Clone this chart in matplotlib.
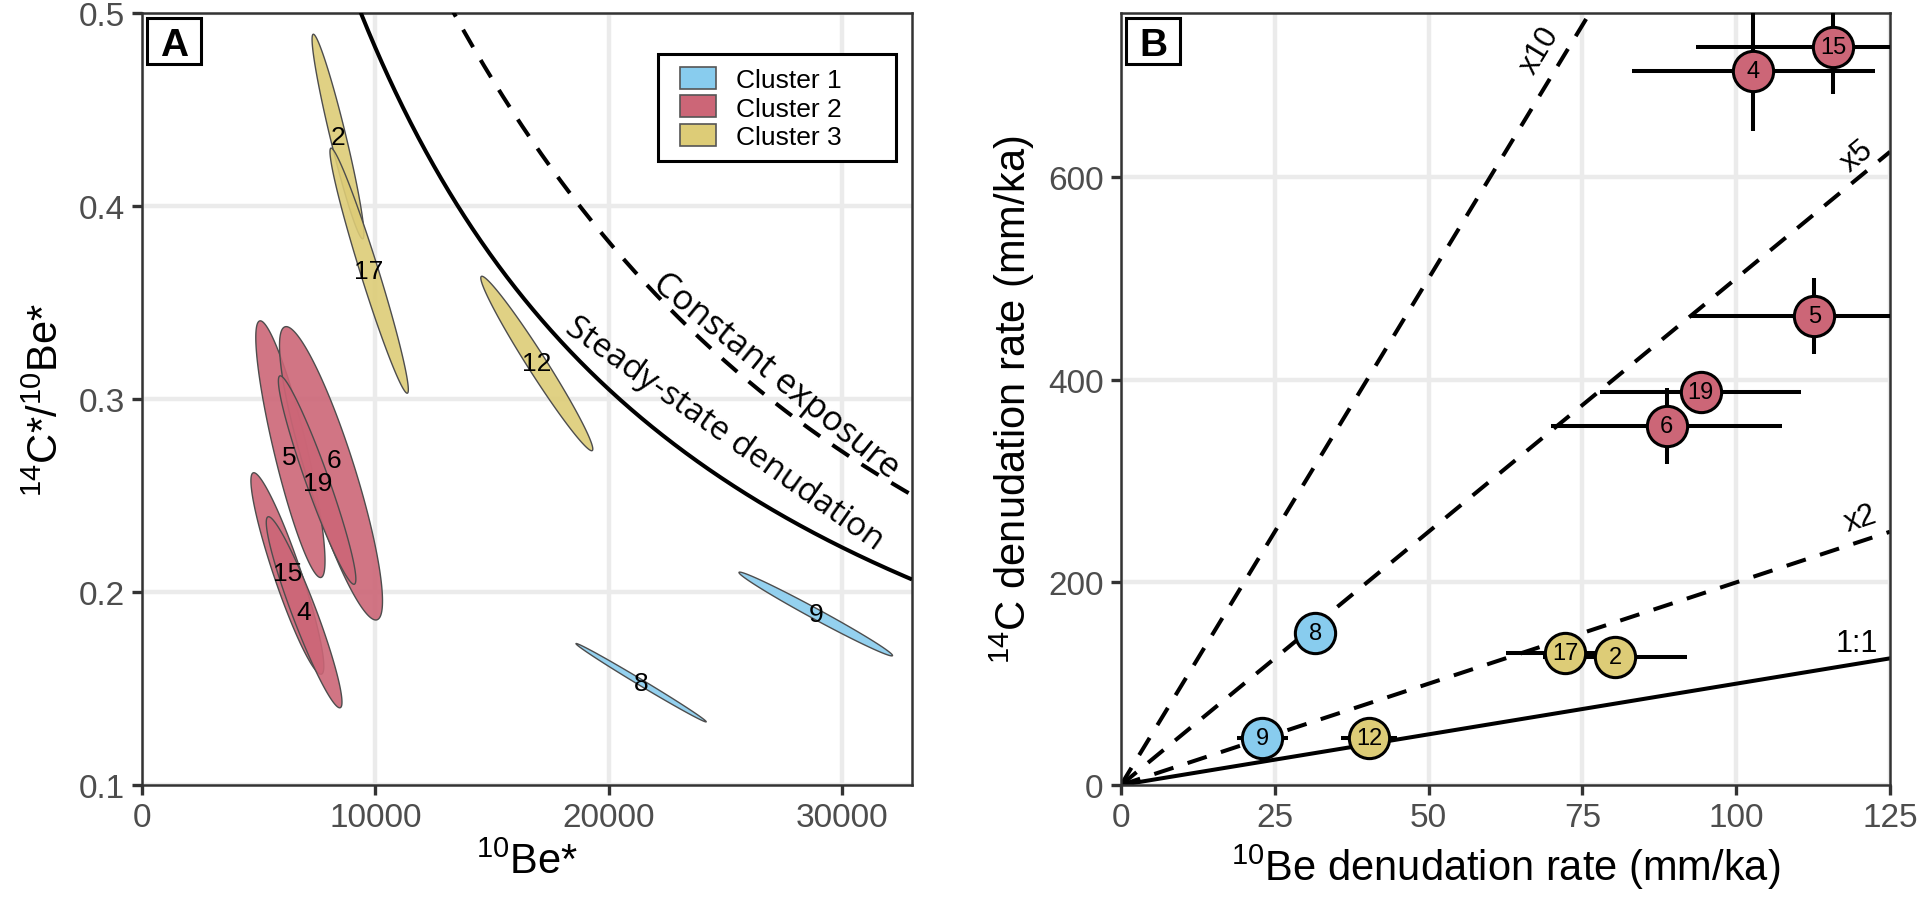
import numpy as np
import matplotlib
matplotlib.use('Agg')
import matplotlib.pyplot as plt
from matplotlib.patches import Polygon, Patch, Rectangle

plt.rcParams['font.family'] = ['Liberation Sans', 'DejaVu Sans']
plt.rcParams['mathtext.fontset'] = 'custom'
plt.rcParams['mathtext.rm'] = 'Liberation Sans'
plt.rcParams['mathtext.it'] = 'Liberation Sans:italic'
plt.rcParams['mathtext.bf'] = 'Liberation Sans:bold'

# ---------------- data ----------------
cluster_colors = ['#88CCEE', '#CC6677', '#DDCC77']
cluster_names = ['Cluster 1', 'Cluster 2', 'Cluster 3']

# Panel A: error ellipses (10Be*, 14C*/10Be*)
ell_sample = ['2', '17', '12', '5', '6', '19', '15', '4', '8', '9']
ell_cluster = [3, 3, 3, 2, 2, 2, 2, 2, 1, 1]
ell_be = [8400, 9735, 16920, 6360, 8100, 7505, 6230, 6948, 21390, 28875]
ell_ratio = [0.436, 0.3665, 0.3184, 0.274, 0.2615, 0.258, 0.2096, 0.1895, 0.153, 0.1886]
ell_sbe = [1111, 1679, 2400, 1483, 2207, 1660, 1562, 1622, 2790, 3290]
ell_sratio = [0.053, 0.0635, 0.0452, 0.0665, 0.076, 0.054, 0.0522, 0.0495, 0.0203, 0.0217]
ell_rho = [-0.95, -0.97, -0.98, -0.87, -0.87, -0.95, -0.92, -0.94, -0.996, -0.99]
# sample-number label anchors
lab_be = [8400, 9735, 16920, 6300, 8230, 7520, 6230, 6948, 21390, 28875]
lab_ratio = [0.436, 0.3665, 0.3184, 0.2697, 0.2686, 0.2566, 0.2096, 0.1895, 0.153, 0.1886]

# model curve parameters
ss_ratio0, ss_scale = 1.148, 7238.0     # steady-state denudation
ce_ratio0, ce_scale = 0.992, 8500.0     # constant exposure

# Panel B: denudation rates
b_sample = ['15', '4', '5', '19', '6', '8', '9', '12', '17', '2']
b_cluster = [2, 2, 2, 2, 2, 1, 1, 3, 3, 3]
b_be = [115.8, 102.8, 112.7, 94.2, 88.7, 31.6, 23.0, 40.3, 72.2, 80.3]
b_be_err = [22.3, 19.8, 20.0, 16.3, 18.8, 2.0, 4.1, 4.5, 9.7, 11.7]
b_c = [728.9, 705.1, 462.8, 388.4, 354.7, 149.8, 46.2, 46.8, 130.4, 126.4]
b_c_err = [47.0, 60.0, 37.3, 12.0, 37.6, 12.0, 8.0, 8.0, 10.0, 10.0]

ref_factors = [1, 2, 5, 10]
ref_labels = ['1:1', 'x2', 'x5', 'x10']
ref_label_be = [119.6, 120.2, 119.7, 68.0]
ref_label_c = [139.8, 263.5, 621.5, 725.6]

# ---------------- figure ----------------
W, H = 1920, 903
fig = plt.figure(figsize=(W / 100, H / 100), dpi=100)
top_px, bot_px = 14, 786
axA = fig.add_axes([142 / W, 1 - bot_px / H, (912 - 142) / W, (bot_px - top_px) / H])
axB = fig.add_axes([1121 / W, 1 - bot_px / H, (1890 - 1121) / W, (bot_px - top_px) / H])

TICK_FS = 24
TITLE_FS = 30


def style(ax):
    ax.set_facecolor('white')
    for s in ax.spines.values():
        s.set_color('#333333')
        s.set_linewidth(1.8)
    ax.tick_params(axis='both', colors='#333333', length=7.5, width=2.4,
                   labelsize=TICK_FS, labelcolor='#4D4D4D', pad=5)
    ax.grid(True, color='#EBEBEB', lw=3.2, zorder=0)
    ax.set_axisbelow(True)


def px_box(ax, left_px, top_px_, w_px, h_px):
    bb = ax.get_position()
    ax_w = bb.width * W
    ax_h = bb.height * H
    return left_px / ax_w, 1 - top_px_ / ax_h, w_px / ax_w, h_px / ax_h


def panel_letter(ax, letter):
    x0, ytop, w, h = px_box(ax, 5.0, 4.5, 54, 46)
    ax.add_patch(Rectangle((x0, ytop - h), w, h, transform=ax.transAxes,
                           facecolor='white', edgecolor='black', lw=2.2,
                           zorder=10, clip_on=False))
    bb = ax.get_position()
    ax.text(x0 + w / 2, ytop - h / 2 - 14.5 / (bb.height * H), letter,
            transform=ax.transAxes, ha='center', va='baseline', fontsize=28,
            fontweight='bold', zorder=11)


# ---------------- Panel A ----------------
style(axA)
axA.set_xlim(0, 33000)
axA.set_ylim(0.1, 0.5)
axA.set_xticks([0, 10000, 20000, 30000])
axA.set_yticks([0.1, 0.2, 0.3, 0.4, 0.5])
axA.set_xticklabels(['0', '10000', '20000', '30000'])
axA.set_yticklabels(['0.1', '0.2', '0.3', '0.4', '0.5'])

t = np.linspace(0, 2 * np.pi, 300)
circle = np.vstack([np.cos(t), np.sin(t)])
for s, c, bx, ry, sbx, sry, rho in zip(ell_sample, ell_cluster, ell_be, ell_ratio,
                                      ell_sbe, ell_sratio, ell_rho):
    cov = np.array([[sbx ** 2, rho * sbx * sry], [rho * sbx * sry, sry ** 2]])
    L = np.linalg.cholesky(cov)
    pts = (L @ circle).T + np.array([bx, ry])
    axA.add_patch(Polygon(pts, closed=True, facecolor=cluster_colors[c - 1],
                          alpha=0.9, edgecolor='none', zorder=3))
    axA.add_patch(Polygon(pts, closed=True, facecolor='none',
                          edgecolor='#4D4D4D', lw=1.0, zorder=3))
for s, bx, ry in zip(ell_sample, lab_be, lab_ratio):
    axA.text(bx, ry, s, ha='center', va='center', fontsize=19, color='black', zorder=5)

N = np.linspace(50, 33000, 800)
ss = ss_ratio0 / (1 + N / ss_scale)
xce = N / ce_scale
ce = ce_ratio0 * (1 - np.exp(-xce)) / xce
axA.plot(N, ss, color='black', lw=2.9, zorder=4, solid_capstyle='butt')
axA.plot(N, ce, color='black', lw=2.9, ls=(0, (5, 3.7)), zorder=4)

axA.set_xlabel(r'$^{10}$Be*', fontsize=TITLE_FS, labelpad=6)
axA.set_ylabel(r'$^{14}$C*/$^{10}$Be*', fontsize=TITLE_FS, labelpad=8)


def curve_label(ax, n0, func, text, offset_px, fs):
    p1 = ax.transData.transform((n0 - 200, func(n0 - 200)))
    p2 = ax.transData.transform((n0 + 200, func(n0 + 200)))
    ang = np.degrees(np.arctan2(p2[1] - p1[1], p2[0] - p1[0]))
    th = np.radians(ang)
    nx, ny = -np.sin(th), np.cos(th)  # normal pointing up-right
    off = offset_px * 72 / 100
    ax.annotate(text, xy=(n0, func(n0)), xytext=(nx * off, ny * off),
                textcoords='offset points', rotation=ang, rotation_mode='anchor',
                ha='center', va='center', fontsize=fs, family=['Open Sans', 'DejaVu Sans'],
                zorder=6)


curve_label(axA, 24000, lambda n: ss_ratio0 / (1 + n / ss_scale),
            'Steady-state denudation', 38, 24)
curve_label(axA, 26570, lambda n: ce_ratio0 * (1 - np.exp(-n / ce_scale)) / (n / ce_scale),
            'Constant exposure', 22, 25)

# legend: frame drawn separately (ggplot-like wider right padding)
fx0, fytop, fw, fh = px_box(axA, 658 - 142, 55 - 14, 238, 107)
axA.add_patch(Rectangle((fx0, fytop - fh), fw, fh, transform=axA.transAxes,
                        facecolor='white', edgecolor='black', lw=2.2, zorder=11,
                        clip_on=False))
handles = [Patch(facecolor=col, edgecolor='#555555', lw=1.2) for col in cluster_colors]
kx0, kytop, _, _ = px_box(axA, 680 - 142, 68 - 14, 1, 1)
leg = axA.legend(handles, cluster_names, loc='upper left',
                 bbox_to_anchor=(kx0, kytop), borderaxespad=0,
                 fontsize=19, handlelength=1.36, handleheight=0.9, labelspacing=0.13,
                 borderpad=0.0, handletextpad=0.75, frameon=False)
leg.set_zorder(12)
panel_letter(axA, 'A')

# ---------------- Panel B ----------------
style(axB)
axB.set_xlim(0, 125)
axB.set_ylim(0, 762)
axB.set_xticks([0, 25, 50, 75, 100, 125])
axB.set_yticks([0, 200, 400, 600])

xs = np.array([0, 125.0])
for k in ref_factors:
    ls = '-' if k == 1 else (0, (5, 3.7))
    axB.plot(xs, k * xs, color='black', lw=2.9, ls=ls, zorder=2)

for k, lab, lx, ly in zip(ref_factors, ref_labels, ref_label_be, ref_label_c):
    if k == 1:
        ang = 0
    else:
        p1 = axB.transData.transform((0, 0))
        p2 = axB.transData.transform((10, 10 * k))
        ang = np.degrees(np.arctan2(p2[1] - p1[1], p2[0] - p1[0]))
    axB.text(lx, ly, lab, rotation=ang, rotation_mode='anchor', ha='center',
             va='center', fontsize=22, zorder=6)

axB.errorbar(b_be, b_c, xerr=b_be_err, yerr=b_c_err, fmt='none', ecolor='black',
             elinewidth=2.9, capsize=0, zorder=3)
for s, c, x, y in zip(b_sample, b_cluster, b_be, b_c):
    axB.plot([x], [y], 'o', ms=29, mfc=cluster_colors[c - 1], mec='black', mew=2.2,
             zorder=4)
    axB.text(x, y, s, ha='center', va='center', fontsize=17, zorder=5)

axB.set_xlabel(r'$^{10}$Be denudation rate (mm/ka)', fontsize=TITLE_FS, labelpad=6)
axB.set_ylabel(r'$^{14}$C denudation rate (mm/ka)', fontsize=TITLE_FS, labelpad=8)
panel_letter(axB, 'B')

fig.savefig('out.png', dpi=100, facecolor='white')
